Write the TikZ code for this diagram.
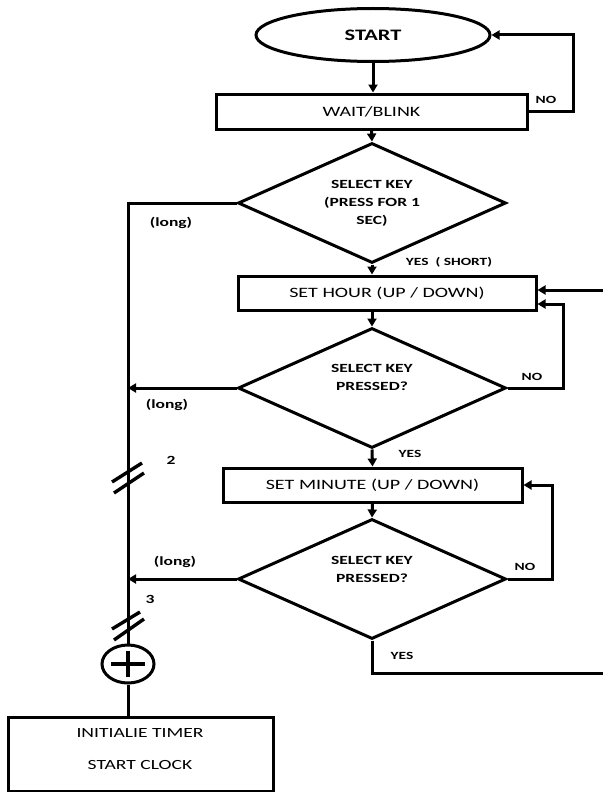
\documentclass[tikz,border=0pt]{standalone}
\usepackage{fontspec}
\setmainfont{Carlito}[FakeStretch=1.4]
\usetikzlibrary{shapes.geometric,arrows.meta}
\begin{document}
\begin{tikzpicture}[x=1pt,y=-1pt,
  line width=3pt,
  every node/.style={inner sep=0pt},
  arr/.style={-{Triangle[length=8pt,width=9pt]}},
  boxnode/.style={draw, rectangle, font=\fontsize{14.3}{16}\selectfont},
  dec/.style={draw, diamond, minimum width=268pt, minimum height=120pt, aspect=2.2},
  dtext/.style={font=\bfseries\fontsize{12.5}{18}\selectfont, align=center},
  lbl/.style={font=\bfseries\fontsize{11}{13}\selectfont},
  longlbl/.style={font=\bfseries\fontsize{12.5}{14}\selectfont},
  plain/.style={font=\fontsize{14}{16}\selectfont},
  slash/.style={line width=3.4pt},
]
\useasboundingbox (0,0) rectangle (603,792);
% nodes
\node[draw, ellipse, minimum width=234pt, minimum height=53pt, font=\bfseries\fontsize{16}{18}\selectfont] (start) at (373,35) {START};
\node[boxnode, minimum width=311pt, minimum height=35pt] (wait) at (371.5,111.5) {WAIT/BLINK};
\node[dec] (d1) at (372,203) {};
\node[dtext] (t1) at (372,203) {SELECT KEY\\(PRESS FOR 1\\SEC)};
\node[boxnode, minimum width=298pt, minimum height=34pt] (hour) at (387,293) {SET HOUR (UP / DOWN)};
\node[dec] (d2) at (372,388) {};
\node[dtext] (t2) at (372,377) {SELECT KEY\\PRESSED?};
\node[boxnode, minimum width=299pt, minimum height=34pt] (min) at (372.5,485) {SET MINUTE (UP / DOWN)};
\node[dec] (d3) at (372,579) {};
\node[dtext] (t3) at (372,569) {SELECT KEY\\PRESSED?};
\node[draw, ellipse, minimum width=52pt, minimum height=38pt] (sum) at (128,664) {};
\node[draw, rectangle, minimum width=265pt, minimum height=74pt] (init) at (140.5,754) {};
\node[plain] (it1) at (140,733) {INITIALIE TIMER};
\node[plain] (it2) at (140,765) {START CLOCK};
% labels
\node[lbl] (no1) at (546,100) {NO};
\node[longlbl] (long1) at (171,223) {(long)};
\node[lbl] (yes1) at (449,262) {YES\ \ ( SHORT)};
\node[lbl] (no2) at (532,377) {NO};
\node[longlbl] (long2) at (167,405) {(long)};
\node[lbl] (yes2) at (410,454) {YES};
\node[longlbl] (long3) at (175,562) {(long)};
\node[lbl] (no3) at (525,567) {NO};
\node[lbl] (yes3) at (402,656) {YES};
\node[lbl, font=\bfseries\fontsize{12.5}{14}\selectfont] (n2lbl) at (171,460) {2};
\node[lbl, font=\bfseries\fontsize{12.5}{14}\selectfont] (n3lbl) at (150,599) {3};
% coordinates
\coordinate (c1) at (128,203);
\coordinate (inR) at (603,290);
\coordinate (outR) at (603,673);
\coordinate (nr) at (573,0);
\coordinate (n2) at (563,0);
\coordinate (n3) at (552,0);
\coordinate (h2) at ([yshift=-11pt]hour.east);
\coordinate (h1) at ([yshift=3pt]hour.east);
% connectors
\draw[arr] (start.south) -- (start.south |- wait.north);
\draw[arr] (wait.east) -- (wait.east -| nr) -- (nr |- start.east) -- (start.east);
\draw[arr] (wait.south) -- (d1.north);
\draw (d1.west) -- (c1) -- (sum.north);
\draw[arr] (d1.south) -- (d1.south |- hour.north);
\draw[arr] (inR) -- (h1);
\draw[arr] (hour.south -| d2.north) -- (d2.north);
\draw[arr] (d2.east) -- (d2.east -| n2) -- (n2 |- h2) -- (h2);
\draw[arr] (d2.west) -- (d2.west -| c1);
\draw[arr] (d2.south) -- (min.north);
\draw[arr] (min.south) -- (d3.north);
\draw[arr] (d3.east) -- (d3.east -| n3) -- (n3 |- min.east) -- (min.east);
\draw[arr] (d3.west) -- (d3.west -| c1);
\draw (d3.south) -- (d3.south |- outR) -- (outR);
\draw (sum.south) -- (sum.south |- init.north);
% plus sign
\draw[line width=3.8pt] ([xshift=-17pt]sum.center) -- ([xshift=17pt]sum.center);
\draw[line width=3.8pt] ([yshift=13pt]sum.center) -- ([yshift=-13pt]sum.center);
% slash marks
\draw[slash] (112,482) -- (142,463);
\draw[slash] (114,493) -- (144,473);
\draw[slash] (112,629) -- (140,612);
\draw[slash] (114,640) -- (144,619);
\end{tikzpicture}
\end{document}
